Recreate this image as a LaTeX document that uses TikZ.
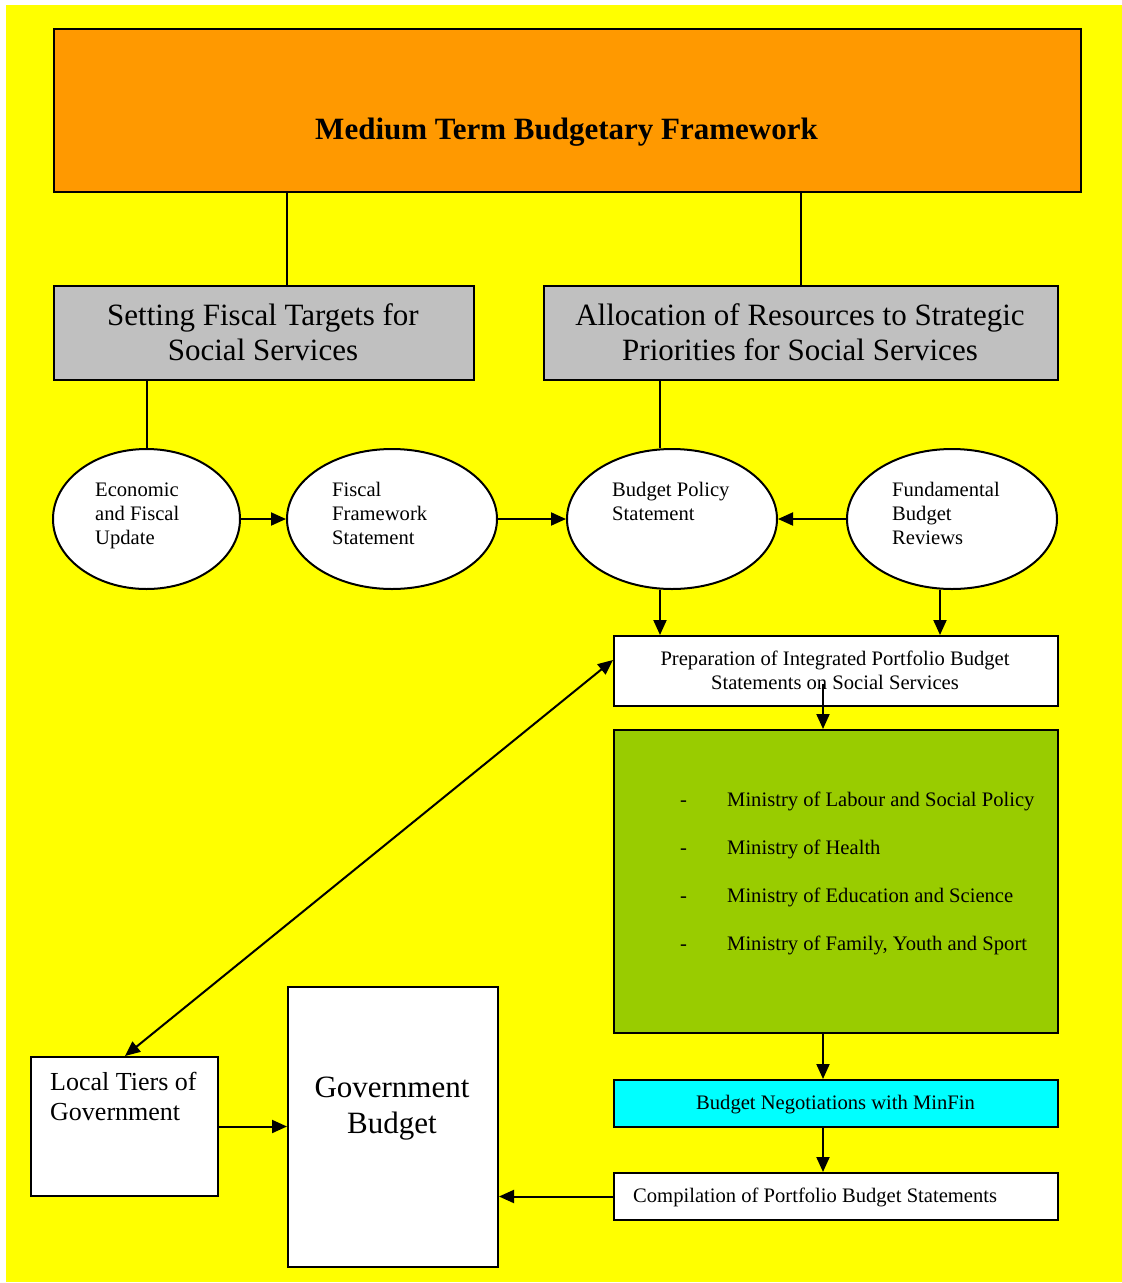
\documentclass[tikz,border=0pt]{standalone}
\usepackage{fontspec}
\setmainfont{Liberation Serif}
\usetikzlibrary{arrows.meta,shapes.geometric}
\definecolor{pageyellow}{HTML}{FFFF00}
\definecolor{mtbforange}{HTML}{FF9900}
\definecolor{targetgrey}{HTML}{C0C0C0}
\definecolor{ministrygreen}{HTML}{99CC00}
\definecolor{negocyan}{HTML}{00FFFF}
% fixed-height strut so that a node's top sits a known distance above its first baseline
\newcommand{\firstline}[1]{\rule{0pt}{#1}}
\begin{document}
\begin{tikzpicture}[x=1pt,y=-1pt,
  frame/.style={draw=black,line width=2pt,rectangle,inner sep=0pt,anchor=north west},
  oval/.style={draw=black,line width=2pt,ellipse,fill=white,inner sep=0pt},
  conn/.style={draw=black,line width=2pt},
  arr/.style={conn,-{Triangle[length=15pt,width=13pt]}},
  dblarr/.style={conn,{Triangle[length=15pt,width=13pt]}-{Triangle[length=15pt,width=13pt]}},
  smalltxt/.style={font=\fontsize{20.6}{24}\selectfont,inner sep=0pt},
  bigtxt/.style={font=\fontsize{31}{35}\selectfont,inner sep=0pt},
]
\useasboundingbox (0,0) rectangle (1122,1283);
\fill[white] (0,0) rectangle (1122,1283);
\fill[pageyellow] (6,5) rectangle (1122,1282);

% ---- top framework box ----
\node[frame,fill=mtbforange,minimum width=1027pt,minimum height=163pt] (mtbf) at (53,28) {};
\node[inner sep=0pt,anchor=base,font=\fontsize{31}{36}\selectfont\bfseries] (mtbftxt) at (566.5,139)
  {Medium Term Budgetary Framework};

% ---- the two grey target boxes ----
\node[frame,fill=targetgrey,minimum width=420pt,minimum height=94pt] (fiscal) at (53,285) {};
\node[bigtxt,align=center,anchor=north] (fiscaltxt) at (263,302.7)
  {\firstline{23pt}Setting Fiscal Targets for\\Social Services};
\node[frame,fill=targetgrey,minimum width=514pt,minimum height=94pt] (alloc) at (543,285) {};
\node[bigtxt,align=center,anchor=north] (alloctxt) at (800,302.7)
  {\firstline{23pt}Allocation of Resources to Strategic\\Priorities for Social Services};

% ---- the four ovals ----
\node[oval,minimum width=187pt,minimum height=140pt] (efu) at (146.5,519) {};
\node[oval,minimum width=210pt,minimum height=140pt] (ffs) at (392,519) {};
\node[oval,minimum width=210pt,minimum height=140pt] (bps) at (672,519) {};
\node[oval,minimum width=210pt,minimum height=140pt] (fbr) at (952,519) {};
\node[smalltxt,align=left,anchor=north west] (efutxt) at (95,481)
  {\firstline{15pt}Economic\\and Fiscal\\Update};
\node[smalltxt,align=left,anchor=north west] (ffstxt) at (332,481)
  {\firstline{15pt}Fiscal\\Framework\\Statement};
\node[smalltxt,align=left,anchor=north west] (bpstxt) at (612,481)
  {\firstline{15pt}Budget Policy\\Statement};
\node[smalltxt,align=left,anchor=north west] (fbrtxt) at (892,481)
  {\firstline{15pt}Fundamental\\Budget\\Reviews};

% ---- right-hand column ----
\node[frame,fill=white,minimum width=444pt,minimum height=70pt] (prep) at (613,635) {};
\node[smalltxt,align=center,anchor=north] (preptxt) at (835,650)
  {\firstline{15pt}Preparation of Integrated Portfolio Budget\\Statements on Social Services};

\node[frame,fill=ministrygreen,minimum width=444pt,minimum height=303pt] (mins) at (613,729) {};
\node[inner sep=0pt,font=\fontsize{20.6}{48}\selectfont,align=left,anchor=north west] (minstxt) at (680,791)
  {\firstline{15pt}\makebox[47pt][l]{-}Ministry of Labour and Social Policy\\
   \makebox[47pt][l]{-}Ministry of Health\\
   \makebox[47pt][l]{-}Ministry of Education and Science\\
   \makebox[47pt][l]{-}Ministry of Family, Youth and Sport};

\node[frame,fill=negocyan,minimum width=444pt,minimum height=47pt] (nego) at (613,1079) {};
\node[smalltxt,anchor=base] (negotxt) at (835.5,1109) {Budget Negotiations with MinFin};

\node[frame,fill=white,minimum width=444pt,minimum height=47pt] (comp) at (613,1172) {};
\node[smalltxt,anchor=base west] (comptxt) at (633,1202) {Compilation of Portfolio Budget Statements};

% ---- bottom-left boxes ----
\node[frame,fill=white,minimum width=210pt,minimum height=280pt] (govb) at (287,986) {};
\node[bigtxt,font=\fontsize{31}{36}\selectfont,align=center,anchor=north] (govbtxt) at (392,1074)
  {\firstline{23pt}Government\\Budget};
\node[frame,fill=white,minimum width=187pt,minimum height=139pt] (local) at (30,1056) {};
\node[inner sep=0pt,font=\fontsize{26}{30}\selectfont,align=left,anchor=north west] (localtxt) at (50,1071)
  {\firstline{19pt}Local Tiers of\\Government};

% ---- connector anchor points ----
\coordinate (xleft) at (287,0);
\coordinate (xbps) at (660,0);
\coordinate (xfbr) at (940,0);
\coordinate (xcol) at (823,0);
\coordinate (prepout) at (823,684);
\coordinate (prepin) at (613,660);
\coordinate (localin) at (125,1056);

% ---- connectors ----
\draw[conn] (mtbf.south -| xleft) -- (fiscal.north -| xleft);
\draw[conn] (mtbf.south -| alloc.north) -- (alloc.north);
\draw[conn] (fiscal.south -| efu.north) -- (efu.north);
\draw[conn] (alloc.south -| xbps) -- (bps.north -| xbps);

\draw[arr] (efu.east) -- (ffs.west);
\draw[arr] (ffs.east) -- (bps.west);
\draw[arr] (fbr.west) -- (bps.east);

\draw[arr] (bps.south -| xbps) -- (prep.north -| xbps);
\draw[arr] (fbr.south -| xfbr) -- (prep.north -| xfbr);

\draw[arr] (prepout) -- (mins.north -| xcol);
\draw[arr] (mins.south -| xcol) -- (nego.north -| xcol);
\draw[arr] (nego.south -| xcol) -- (comp.north -| xcol);

\draw[arr] (comp.west) -- (comp.west -| govb.east);
\draw[arr] (local.east) -- (local.east -| govb.west);
\draw[dblarr] (prepin) -- (localin);
\end{tikzpicture}
\end{document}
